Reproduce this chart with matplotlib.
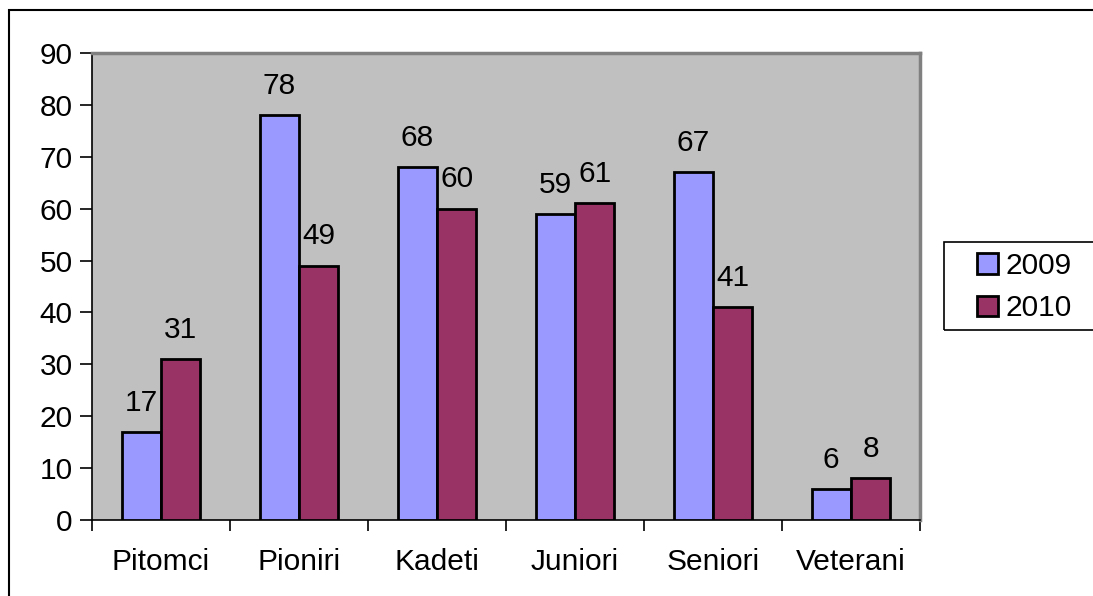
import matplotlib.pyplot as plt
import matplotlib.patches as patches
import numpy as np

categories = ['Pitomci', 'Pioniri', 'Kadeti', 'Juniori', 'Seniori', 'Veterani']
values_2009 = [17, 78, 68, 59, 67, 6]
values_2010 = [31, 49, 60, 61, 41, 8]
series_names = ['2009', '2010']

plt.rcParams['font.family'] = ['Liberation Sans', 'DejaVu Sans']

W, H = 1093, 596
FS = 21.5
fig = plt.figure(figsize=(W / 100, H / 100), dpi=100)

# outer chart border (runs off the bottom/right of the image)
fig.patches.append(patches.Rectangle((9 / W, -0.05), 1.2, 1 - 10 / H + 0.05,
                                     transform=fig.transFigure, fill=False,
                                     edgecolor='black', linewidth=1.5))

ax = fig.add_axes([92 / W, 1 - 520 / H, (920 - 92) / W, (520 - 53) / H])
ax.set_facecolor('#C0C0C0')

x = np.arange(len(categories))
w = 1 / 3.5
b1 = ax.bar(x - w / 2, values_2009, w, color='#9999FF', edgecolor='black',
            linewidth=2, label=series_names[0], zorder=3)
b2 = ax.bar(x + w / 2, values_2010, w, color='#993366', edgecolor='black',
            linewidth=2, label=series_names[1], zorder=3)

for bars in (b1, b2):
    for rect in bars:
        ax.annotate(f'{rect.get_height():g}',
                    (rect.get_x() + rect.get_width() / 2, rect.get_height()),
                    xytext=(0, 11), textcoords='offset points',
                    ha='center', va='bottom', fontsize=FS)

ax.set_xlim(-0.5, len(categories) - 0.5)
ax.set_ylim(0, 90)
ax.set_yticks(range(0, 91, 10))
ax.tick_params(axis='y', labelsize=FS, length=9, width=1.2, direction='out', pad=5)
ax.set_xticks(np.arange(-0.5, len(categories), 1.0))
ax.set_xticklabels([])
ax.set_xticks(x, minor=True)
ax.set_xticklabels(categories, minor=True)
ax.tick_params(axis='x', which='major', length=8, width=1.2, direction='out')
ax.tick_params(axis='x', which='minor', length=0, labelsize=FS, pad=20)

for s in ('left', 'bottom'):
    ax.spines[s].set_color('black')
    ax.spines[s].set_linewidth(1.2)
for s in ('top', 'right'):
    ax.spines[s].set_color('#808080')
    ax.spines[s].set_linewidth(2.5)

# legend frame drawn separately so it runs to the right edge like the original
fig.patches.append(patches.Rectangle((944 / W, 1 - 330 / H), 0.2, 88 / H,
                                     transform=fig.transFigure, fill=False,
                                     edgecolor='black', linewidth=1.2))
leg = fig.legend(loc='center left', bbox_to_anchor=(977 / W, 1 - 287 / H),
                 fontsize=FS, frameon=False, handlelength=0.7,
                 handleheight=0.7, handletextpad=0.25, borderpad=0,
                 labelspacing=0.5, borderaxespad=0)

fig.savefig('out.png', dpi=100)
